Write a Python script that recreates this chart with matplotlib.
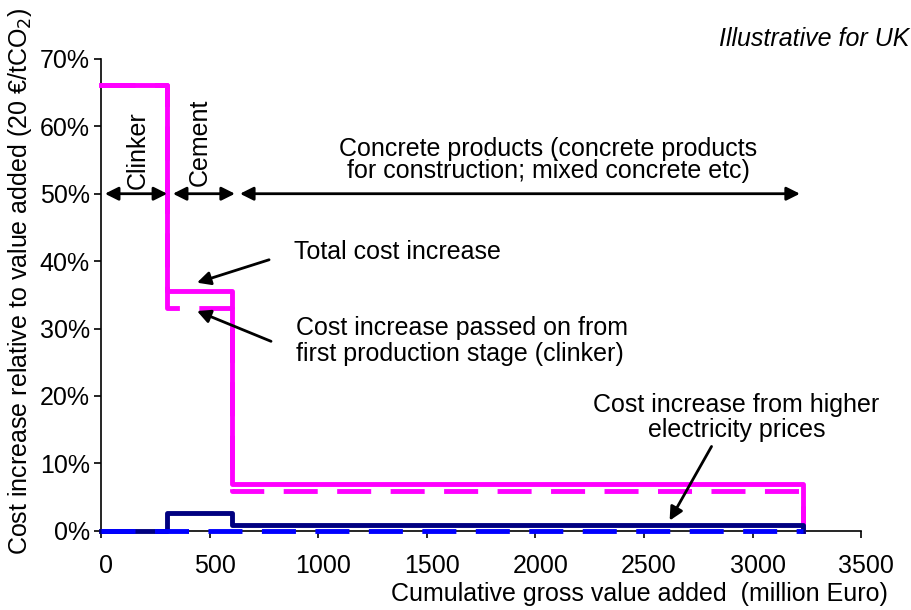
import numpy as np
import matplotlib
matplotlib.use("Agg")
import matplotlib.pyplot as plt
import matplotlib.transforms as mtransforms
from matplotlib.ticker import PercentFormatter

plt.rcParams['font.family'] = ['Liberation Sans', 'DejaVu Sans']

# stage boundaries on the cumulative value added axis (million Euro)
edges = [0, 305, 602, 3232]
stages = ['Clinker', 'Cement', 'Concrete products']

# cost increase relative to value added, per stage (last 0 closes the step)
total_cost = [0.661, 0.356, 0.070, 0.0]
passed_on = [0.661, 0.330, 0.059, 0.0]
electricity = [0.0, 0.026, 0.008, 0.0]
electricity_passed = [0.0, 0.0, 0.0, 0.0]

FS = 18

fig = plt.figure(figsize=(9.12, 6.1), dpi=100)
ax = fig.add_axes([0.1107, 0.130, 0.8336, 0.7734])

ax.step(edges, total_cost, where='post', color='#FF00FF', lw=3.5, clip_on=False, zorder=3)
ax.step(edges, passed_on, where='post', color='#FF00FF', lw=3.5,
        linestyle=(0, (7, 4)), clip_on=False, zorder=3)
ax.step(edges, electricity, where='post', color='#000080', lw=3.5, clip_on=False, zorder=4)
ax.step(edges, electricity_passed, where='post', color='#0000FF', lw=3.5,
        linestyle=(0, (7, 4)), clip_on=False, zorder=5)

ax.set_xlim(0, 3500)
ax.set_ylim(0, 0.70)
ax.set_xticks(np.arange(0, 3501, 500))
ax.set_yticks(np.arange(0, 0.71, 0.1))
ax.yaxis.set_major_formatter(PercentFormatter(1.0, decimals=0))
ax.spines['top'].set_visible(False)
ax.spines['right'].set_visible(False)
ax.spines['left'].set_linewidth(1.2)
ax.spines['bottom'].set_linewidth(1.2)
ax.tick_params(direction='out', length=5, width=1.2, labelsize=FS)
ax.tick_params(axis='y', pad=3)
ax.tick_params(axis='x', pad=12)

# x tick labels sit a little to the right of their ticks
shift = mtransforms.ScaledTranslation(5 / 100, 0, fig.dpi_scale_trans)
for lab in ax.get_xticklabels():
    lab.set_transform(lab.get_transform() + shift)

ax.set_xlabel('Cumulative gross value added  (million Euro)', fontsize=FS,
              loc='right', labelpad=3)
ax.xaxis.label.set_x(1.0355)
ax.set_ylabel('Cost increase relative to value added (20 €/tCO$_2$)', fontsize=FS,
              labelpad=4)
ax.yaxis.label.set_y(0.529)

fig.text(0.997, 0.936, 'Illustrative for UK', fontsize=FS, style='italic',
         ha='right', va='center')

# stage extent arrows at the 50% line
dbl = dict(arrowstyle='<|-|>', color='black', lw=2, mutation_scale=20,
           shrinkA=0, shrinkB=0)
ax.annotate('', xy=(18, 0.50), xytext=(305, 0.50), arrowprops=dbl)
ax.annotate('', xy=(331, 0.50), xytext=(617, 0.50), arrowprops=dbl)
ax.annotate('', xy=(640, 0.50), xytext=(3218, 0.50), arrowprops=dbl)

ax.text(170, 0.565, stages[0], rotation=90, fontsize=FS, ha='center', va='center')
ax.text(456, 0.576, stages[1], rotation=90, fontsize=FS, ha='center', va='center')
ax.text(2060, 0.55, 'Concrete products (concrete products\n'
        'for construction; mixed concrete etc)',
        fontsize=FS, ha='center', va='center', linespacing=0.9)

arr = dict(arrowstyle='-|>', color='black', lw=2, mutation_scale=20,
           shrinkA=0, shrinkB=0)
ax.annotate('', xy=(442, 0.368), xytext=(774, 0.402), arrowprops=arr)
ax.text(889, 0.414, 'Total cost increase', fontsize=FS, ha='left', va='center')

ax.annotate('', xy=(442, 0.326), xytext=(783, 0.281), arrowprops=arr)
ax.text(899, 0.282, 'Cost increase passed on from\nfirst production stage (clinker)',
        fontsize=FS, ha='left', va='center', linespacing=1.1)

ax.annotate('', xy=(2618, 0.015), xytext=(2811, 0.125), arrowprops=arr)
ax.text(2926, 0.168, 'Cost increase from higher\nelectricity prices',
        fontsize=FS, ha='center', va='center', linespacing=1.1)

fig.savefig('out.png', dpi=100)
